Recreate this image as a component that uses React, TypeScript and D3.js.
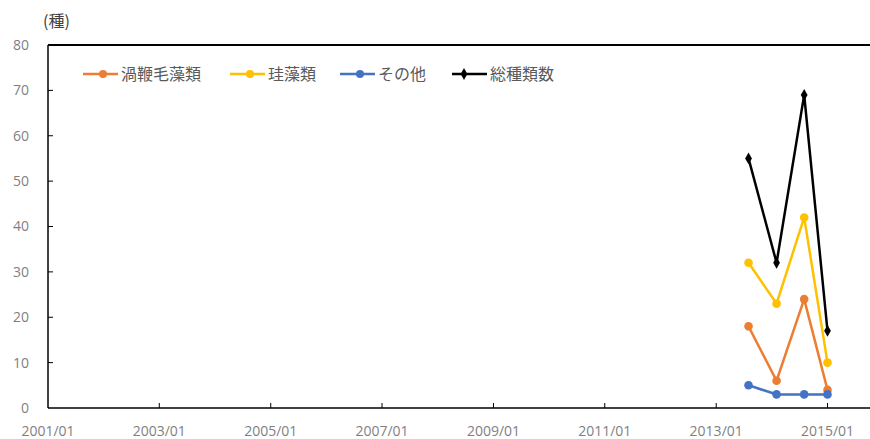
import React from "react";
import * as d3 from "d3";

const dates = ["2013-08-01", "2014-02-01", "2014-08-01", "2015-01-01"];
const dinoflagellates = [18, 6, 24, 4];
const diatoms = [32, 23, 42, 10];
const others = [5, 3, 3, 3];
const totalSpecies = [55, 32, 69, 17];
const yTicks = [0, 10, 20, 30, 40, 50, 60, 70, 80];
const xTickLabels = ["2001/01", "2003/01", "2005/01", "2007/01", "2009/01", "2011/01", "2013/01", "2015/01"];

const seriesList = [
  { name: "渦鞭毛藻類", values: dinoflagellates, color: "#ED7D31", marker: "circle" },
  { name: "珪藻類", values: diatoms, color: "#FFC000", marker: "circle" },
  { name: "その他", values: others, color: "#4472C4", marker: "circle" },
  { name: "総種類数", values: totalSpecies, color: "#000000", marker: "diamond" },
];

const W = 870;
const H = 439;
const parse = d3.timeParse("%Y-%m-%d");
const parseTick = d3.timeParse("%Y/%m");

export default function App() {
  const x = d3.scaleTime().domain([parse("2001-01-01")!, parse("2015-01-01")!]).range([48, 827.5]);
  const y = d3.scaleLinear().domain([0, 80]).range([408, 45]);
  const line = d3
    .line<number>()
    .x((_, i) => x(parse(dates[i])!))
    .y((v) => y(v));
  const legendX = [83, 230, 340, 452];
  const legendY = 74;
  const tickFont = "'Open Sans', sans-serif";
  const cjkFont = "'Noto Sans CJK JP', sans-serif";
  const diamond = d3.symbol().type(d3.symbolDiamond).size(40)();

  return (
    <svg width={W} height={H} style={{ position: "absolute", left: 0, top: 0, background: "#fff" }}>
      <rect x={0} y={0} width={W} height={H} fill="#fff" />
      {/* frame */}
      <line x1={48} x2={W} y1={45} y2={45} stroke="#000" strokeWidth={1.8} />
      <line x1={48} x2={48} y1={45} y2={408} stroke="#000" strokeWidth={1.5} />
      <line x1={48} x2={W} y1={408} y2={408} stroke="#000" strokeWidth={1.5} />
      {/* y ticks */}
      {yTicks.map((t) => (
        <g key={"y" + t}>
          {t > 0 && t < 80 && <line x1={48} x2={53} y1={y(t)} y2={y(t)} stroke="#000" strokeWidth={1} />}
          <text x={29} y={y(t)} dy="0.35em" textAnchor="end" fontFamily={tickFont} fontSize={14} fill="#7f7f7f">
            {t}
          </text>
        </g>
      ))}
      <text x={43} y={27} fontFamily={cjkFont} fontSize={16} fill="#404040">(種)</text>
      {/* x ticks */}
      {xTickLabels.map((l, i) => {
        const xx = x(parseTick(l)!);
        return (
          <g key={"x" + l}>
            {i > 0 && <line x1={xx} x2={xx} y1={408} y2={403} stroke="#000" strokeWidth={1} />}
            <text x={xx} y={436} textAnchor="middle" fontFamily={tickFont} fontSize={14} fill="#7f7f7f">
              {l}
            </text>
          </g>
        );
      })}
      {/* series */}
      {seriesList.map((s) => (
        <g key={s.name}>
          <path d={line(s.values) || ""} fill="none" stroke={s.color} strokeWidth={2.5} />
          {s.values.map((v, i) => {
            const cx = x(parse(dates[i])!);
            const cy = y(v);
            return s.marker === "circle" ? (
              <circle key={i} cx={cx} cy={cy} r={4.3} fill={s.color} />
            ) : (
              <path key={i} d={diamond || ""} transform={`translate(${cx},${cy})`} fill={s.color} />
            );
          })}
        </g>
      ))}
      {/* legend */}
      {seriesList.map((s, i) => {
        const lx = legendX[i];
        return (
          <g key={"lg" + s.name}>
            <line x1={lx} x2={lx + 35} y1={legendY} y2={legendY} stroke={s.color} strokeWidth={2.5} />
            {s.marker === "circle" ? (
              <circle cx={lx + 20} cy={legendY} r={4} fill={s.color} />
            ) : (
              <path d={diamond || ""} transform={`translate(${lx + 12},${legendY})`} fill={s.color} />
            )}
            <text x={lx + 38} y={legendY} dy="0.36em" fontFamily={cjkFont} fontSize={16} fill="#595959">
              {s.name}
            </text>
          </g>
        );
      })}
    </svg>
  );
}
